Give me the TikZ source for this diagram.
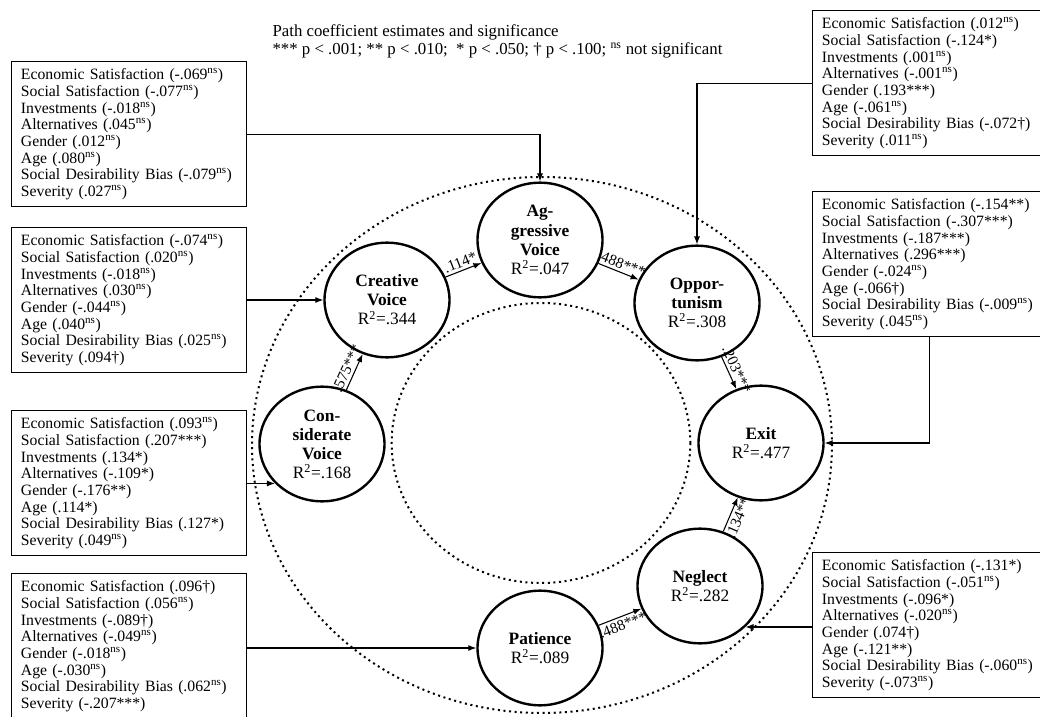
\documentclass[tikz,border=0pt]{standalone}
\usepackage{fontspec}
\setmainfont{Liberation Serif}
\usetikzlibrary{shapes.geometric,arrows.meta}
\tikzset{latent/.style={ellipse,draw,fill=white,line width=1.8pt,minimum width=93.75pt,minimum height=86pt,inner sep=0pt,align=center,font=\fontsize{13}{14.3}\selectfont}}
\tikzset{covbox/.style={draw,fill=white,line width=0.9pt,anchor=north west,align=left,inner xsep=7pt,inner ysep=5.3pt,text width=162pt,font=\fontsize{11.8}{12.5}\selectfont}}
\tikzset{ring/.style={line width=1.5pt,dash pattern=on 1.5pt off 2.7pt}}
\tikzset{coef/.style={sloped,inner sep=2pt,font=\fontsize{11.5}{11.5}\selectfont}}
\newcommand{\nsig}{\textsuperscript{ns}}
\newcommand{\rsq}[1]{R\textsuperscript{2}=#1}

\begin{document}
\begin{tikzpicture}[x=0.75pt,y=-0.75pt,>={Latex[length=6pt,width=4.5pt]},line width=0.8pt]
\useasboundingbox (0,0) rectangle (1040,717);
\draw[ring] (542,445) ellipse [x radius=217.5pt,y radius=201pt];
\draw[ring] (541,443) ellipse [x radius=112pt,y radius=105pt];

\node[anchor=north west,align=left,inner sep=0pt,font=\fontsize{12.6}{13.5}\selectfont](key) at (272,24) {Path coefficient estimates and significance\\*** p < .001; ** p < .010; \ * p < .050; \dag{} p < .100; \nsig{} not significant};

\node[latent](cv) at (322,444) {\textbf{Con-}\\\textbf{siderate}\\\textbf{Voice}\\\rsq{.168}};
\node[latent](crv) at (387,300) {\textbf{Creative}\\\textbf{Voice}\\\rsq{.344}};
\node[latent](agg) at (540,240) {\textbf{Ag-}\\\textbf{gressive}\\\textbf{Voice}\\\rsq{.047}};
\node[latent](opp) at (697,303) {\textbf{Oppor-}\\\textbf{tunism}\\\rsq{.308}};
\node[latent](exit) at (761,443) {\textbf{Exit}\\\rsq{.477}};
\node[latent](neg) at (700,586) {\textbf{Neglect}\\\rsq{.282}};
\node[latent](pat) at (540,648) {\textbf{Patience}\\\rsq{.089}};

\draw[->](cv) -- (crv) node[coef,midway,above]{.575***};
\draw[->](crv) -- (agg) node[coef,midway,above]{.114*};
\draw[->](agg) -- (opp) node[coef,midway,above]{.488***};
\draw[->](opp) -- (exit) node[coef,midway,above]{.203***};
\draw[->](neg) -- (exit) node[coef,midway,below]{.134**};
\draw[->](pat) -- (neg) node[coef,midway,below]{.488***};

\node[covbox](b1) at (11,61) {Economic Satisfaction (-.069\nsig)\\Social Satisfaction (-.077\nsig)\\Investments (-.018\nsig)\\Alternatives (.045\nsig)\\Gender (.012\nsig)\\Age (.080\nsig)\\Social Desirability Bias (-.079\nsig)\\Severity (.027\nsig)};
\node[covbox](b2) at (11,227) {Economic Satisfaction (-.074\nsig)\\Social Satisfaction (.020\nsig)\\Investments (-.018\nsig)\\Alternatives (.030\nsig)\\Gender (-.044\nsig)\\Age (.040\nsig)\\Social Desirability Bias (.025\nsig)\\Severity (.094\dag)};
\node[covbox](b3) at (11,410) {Economic Satisfaction (.093\nsig)\\Social Satisfaction (.207***)\\Investments (.134*)\\Alternatives (-.109*)\\Gender (-.176**)\\Age (.114*)\\Social Desirability Bias (.127*)\\Severity (.049\nsig)};
\node[covbox](b4) at (11,573) {Economic Satisfaction (.096\dag)\\Social Satisfaction (.056\nsig)\\Investments (-.089\dag)\\Alternatives (-.049\nsig)\\Gender (-.018\nsig)\\Age (-.030\nsig)\\Social Desirability Bias (.062\nsig)\\Severity (-.207***)};
\node[covbox](b5) at (812,10) {Economic Satisfaction (.012\nsig)\\Social Satisfaction (-.124*)\\Investments (.001\nsig)\\Alternatives (-.001\nsig)\\Gender (.193***)\\Age (-.061\nsig)\\Social Desirability Bias (-.072\dag)\\Severity (.011\nsig)};
\node[covbox](b6) at (812,191) {Economic Satisfaction (-.154**)\\Social Satisfaction (-.307***)\\Investments (-.187***)\\Alternatives (.296***)\\Gender (-.024\nsig)\\Age (-.066\dag)\\Social Desirability Bias (-.009\nsig)\\Severity (.045\nsig)};
\node[covbox](b7) at (812,552) {Economic Satisfaction (-.131*)\\Social Satisfaction (-.051\nsig)\\Investments (-.096*)\\Alternatives (-.020\nsig)\\Gender (.074\dag)\\Age (-.121**)\\Social Desirability Bias (-.060\nsig)\\Severity (-.073\nsig)};

\draw[->](b1.east) -| (agg);
\draw[->](crv.west -| b2.east) -- (crv.west);
\draw[->](cv.220 -| b3.east) -- (cv.220);
\draw[->](pat.west -| b4.east) -- (pat.west);
\draw[->](b5.west) -| (opp);
\draw[->](b6.south) |- (exit);
\draw[->](neg.318 -| b7.west) -- (neg.318);
\end{tikzpicture}
\end{document}
